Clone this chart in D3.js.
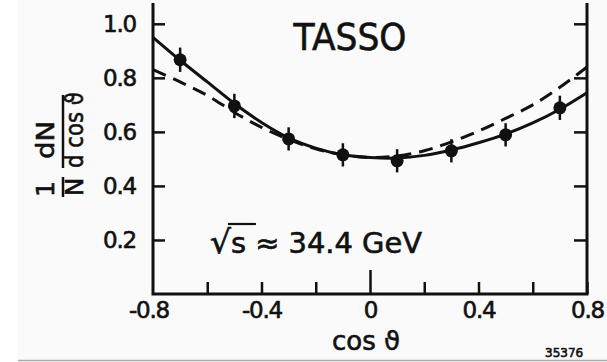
<!DOCTYPE html>
<html>
<head>
<meta charset="utf-8">
<script src="https://cdn.jsdelivr.net/npm/d3@7"></script>
<style>
  body { margin: 0; background: #fff; }
  svg text { font-family: "DejaVu Sans", sans-serif; fill: #111; stroke: #111; stroke-width: 0.6; }
</style>
</head>
<body>
<script>
const w = 607; // width
const h = 362; // height

// measured points with errors
const pointX = [-0.7, -0.5, -0.3, -0.1, 0.1, 0.3, 0.5, 0.7];
const pointY = [0.867, 0.696, 0.574, 0.515, 0.493, 0.530, 0.589, 0.689];
const pointErr = [0.045, 0.045, 0.043, 0.043, 0.043, 0.043, 0.043, 0.045];

// curves
const curveX = [-0.8, -0.7, -0.6, -0.5, -0.4, -0.3, -0.2, -0.1, 0, 0.1, 0.2, 0.3, 0.4, 0.5, 0.6, 0.7, 0.8];
const solidY = [0.950, 0.865, 0.785, 0.705, 0.635, 0.578, 0.540, 0.515, 0.505, 0.503, 0.513, 0.533, 0.560, 0.592, 0.633, 0.684, 0.745];
const dashedY = [0.830, 0.785, 0.735, 0.672, 0.617, 0.572, 0.537, 0.515, 0.505, 0.511, 0.530, 0.563, 0.603, 0.650, 0.700, 0.765, 0.840];

// ticks
const xTicks = [-0.6, -0.4, -0.2, 0, 0.2, 0.4, 0.6, 0.8];
const xLabels = [-0.8, -0.4, 0, 0.4, 0.8];
const yTicks = [0.2, 0.4, 0.6, 0.8, 1.0];

let svg = d3.select("body")
    .append("svg")
    .attr('width', w)
    .attr('height', h);

// paper background + scan edge
svg.append("rect")
    .attr("x", 18).attr("y", 0)
    .attr("width", w - 18).attr("height", 360)
    .attr("fill", "#f9faf9");
svg.append("line")
    .attr("x1", 18).attr("x2", w)
    .attr("y1", 360.5).attr("y2", 360.5)
    .attr("stroke", "#aaa").attr("stroke-width", 1.5);

let x = d3.scaleLinear()
    .domain([-0.8, 0.8])
    .range([153, 587]);

let y = d3.scaleLinear()
    .domain([0, 1.077])
    .range([294, 3]);

const ink = "#111";
// hyphen instead of unicode minus, like the original typesetting
const fmt = d => d === 0 ? "0" : d3.format(".1f")(d).replace("\u2212", "-");

// frame: left, bottom, right
svg.append("path")
    .attr("d", `M${x(-0.8)},${y(1.077)}V${y(0)}H${x(0.8)}V${y(1.077)}`)
    .attr("fill", "none")
    .attr("stroke", ink)
    .attr("stroke-width", 3);

// bottom axis
let gX = svg.append("g")
    .attr("transform", `translate(0,${y(0)})`)
    .call(d3.axisBottom(x)
        .tickValues(xTicks)
        .tickSize(-12)
        .tickPadding(8)
        .tickFormat(d => xLabels.some(v => Math.abs(v - d) < 1e-9) ? fmt(d) : ""));
gX.select(".domain").remove();
gX.selectAll(".tick line").attr("stroke", ink).attr("stroke-width", 2.5)
    .attr("y2", d => d === 0 ? -24 : -12);
gX.selectAll(".tick text").attr("font-size", 23).attr("letter-spacing", -1.2);

// extra label for -0.8 (at the frame corner)
svg.append("text")
    .attr("x", x(-0.8) - 4)
    .attr("y", y(0) + 8)
    .attr("dy", "0.71em")
    .attr("text-anchor", "middle")
    .attr("font-size", 23)
    .attr("letter-spacing", -1.2)
    .text(fmt(-0.8));

// left axis
let gY = svg.append("g")
    .attr("transform", `translate(${x(-0.8)},0)`)
    .call(d3.axisLeft(y)
        .tickValues(yTicks)
        .tickSize(-12)
        .tickPadding(17)
        .tickFormat(fmt));
gY.select(".domain").remove();
gY.selectAll(".tick line").attr("stroke", ink).attr("stroke-width", 2.5);
gY.selectAll(".tick text").attr("font-size", 23).attr("letter-spacing", -1.2);

// right axis
let gR = svg.append("g")
    .attr("transform", `translate(${x(0.8)},0)`)
    .call(d3.axisRight(y)
        .tickValues(yTicks)
        .tickSize(-13)
        .tickFormat(""));
gR.select(".domain").remove();
gR.selectAll(".tick line").attr("stroke", ink).attr("stroke-width", 2.5);

// curves
let line = d3.line()
    .x((d, i) => x(curveX[i]))
    .y(d => y(d))
    .curve(d3.curveCatmullRom);

svg.append("path")
    .datum(dashedY)
    .attr("d", line)
    .attr("fill", "none")
    .attr("stroke", ink)
    .attr("stroke-width", 3)
    .attr("stroke-dasharray", "14,8");

svg.append("path")
    .datum(solidY)
    .attr("d", line)
    .attr("fill", "none")
    .attr("stroke", ink)
    .attr("stroke-width", 3);

// data points
let pts = svg.selectAll("g.pt")
    .data(pointX)
    .enter()
    .append("g")
    .attr("class", "pt");

pts.append("line")
    .attr("x1", d => x(d)).attr("x2", d => x(d))
    .attr("y1", (d, i) => y(pointY[i] + pointErr[i]))
    .attr("y2", (d, i) => y(pointY[i] - pointErr[i]))
    .attr("stroke", ink)
    .attr("stroke-width", 2.5);

pts.append("circle")
    .attr("cx", d => x(d))
    .attr("cy", (d, i) => y(pointY[i]))
    .attr("r", 6.5)
    .attr("fill", ink);

// texts
svg.append("text")
    .attr("x", 350)
    .attr("y", 50)
    .attr("text-anchor", "middle")
    .attr("font-size", 37)
    .attr("textLength", 113)
    .attr("lengthAdjust", "spacingAndGlyphs")
    .text("TASSO");

let sq = svg.append("text")
    .attr("x", 210)
    .attr("y", 253)
    .attr("font-size", 28)
    .attr("textLength", 212)
    .attr("lengthAdjust", "spacingAndGlyphs");
sq.append("tspan").attr("font-size", 32).text("√");
sq.append("tspan").text("s  ≈ 34.4 GeV");
svg.append("line")
    .attr("x1", 228).attr("x2", 256)
    .attr("y1", 224).attr("y2", 224)
    .attr("stroke", ink).attr("stroke-width", 2.2);

svg.append("text")
    .attr("x", 366)
    .attr("y", 350)
    .attr("text-anchor", "middle")
    .attr("font-size", 26)
    .text("cos ϑ");

// y axis label: 1/N dN/(d cos ϑ), rotated
let yl = svg.append("g")
    .attr("transform", "translate(63,146) rotate(-90)");
yl.append("text").attr("x", -43).attr("y", -9).attr("text-anchor", "middle")
    .attr("font-size", 25).text("1");
yl.append("text").attr("x", -41).attr("y", 20).attr("text-anchor", "middle")
    .attr("font-size", 25).text("N");
yl.append("line").attr("x1", -51).attr("x2", -31).attr("y1", 0).attr("y2", 0)
    .attr("stroke", ink).attr("stroke-width", 2.5);
yl.append("text").attr("x", 6).attr("y", -9).attr("text-anchor", "middle")
    .attr("font-size", 25).attr("textLength", 38).attr("lengthAdjust", "spacingAndGlyphs")
    .text("dN");
yl.append("text").attr("x", 16).attr("y", 20).attr("text-anchor", "middle")
    .attr("font-size", 25).attr("textLength", 76).attr("lengthAdjust", "spacingAndGlyphs")
    .text("d cos ϑ");
yl.append("line").attr("x1", -22).attr("x2", 51).attr("y1", 0).attr("y2", 0)
    .attr("stroke", ink).attr("stroke-width", 2.5);

// plate number
svg.append("text")
    .attr("x", 545)
    .attr("y", 357)
    .attr("font-size", 12)
    .text("35376");
</script>
</body>
</html>
